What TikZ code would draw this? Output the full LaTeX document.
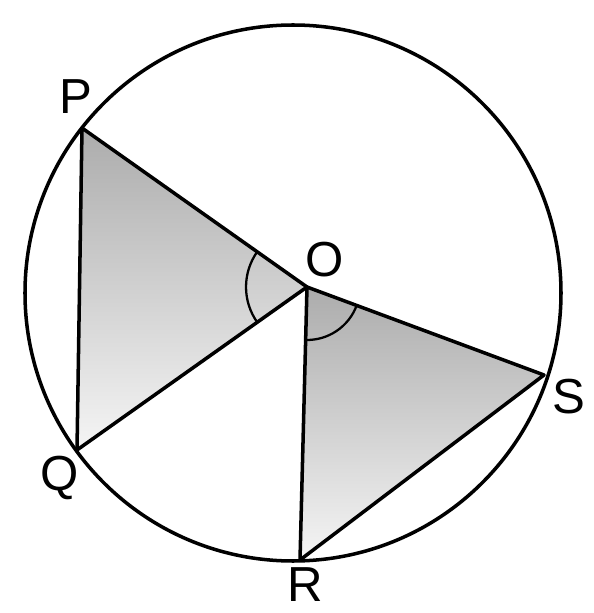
\documentclass[tikz,border=0pt]{standalone}
\usepackage{fontspec}
\setmainfont{Liberation Sans}
\usetikzlibrary{angles}

\begin{document}
\begin{tikzpicture}[x=0.02cm,y=0.02cm,
  edge/.style={line width=2pt,line join=round},
  vlabel/.style={font=\fontsize{28}{30}\selectfont,inner sep=0pt},
  shadetri/.style={top color=gray!65,bottom color=gray!8}]
\useasboundingbox (0,0) rectangle (594,613);

% --- Points ---
\coordinate (C) at (293,320);
\coordinate (P) at (82,485);
\coordinate (Q) at (77,163);
\coordinate (O) at (307,326);
\coordinate (R) at (300,53);
\coordinate (S) at (544,238);

% --- Shaded triangles ---
\shade[shadetri] (P) -- (Q) -- (O) -- cycle;
\shade[shadetri] (O) -- (R) -- (S) -- cycle;

% --- Circle and chords ---
\draw[edge] (C) circle[radius=268];
\draw[edge] (P) -- (Q) -- (O) -- cycle;
\draw[edge] (O) -- (R) -- (S) -- cycle;

% equal angles at O
\pic[draw,line width=1.3pt,angle radius=1.22cm] {angle=P--O--Q};
\pic[draw,line width=1.3pt,angle radius=1.06cm] {angle=R--O--S};

% --- Labels ---
\node[vlabel] (lP) at (76,516) {P};
\node[vlabel] (lQ) at (60,135) {Q};
\node[vlabel] (lO) at (325,353) {O};
\node[vlabel] (lR) at (305,28) {R};
\node[vlabel] (lS) at (569,216) {S};

\end{tikzpicture}
\end{document}
